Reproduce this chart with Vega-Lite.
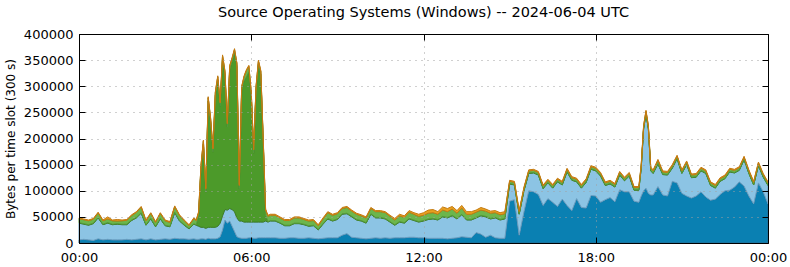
{
  "$schema": "https://vega.github.io/schema/vega-lite/v6.json",
  "width": 689,
  "height": 209,
  "autosize": "none",
  "padding": {"left": 79, "top": 34, "right": 22, "bottom": 24},
  "background": "white",
  "title": {"text": "Source Operating Systems (Windows) -- 2024-06-04 UTC", "font": "DejaVu Sans", "fontSize": 14.5, "fontWeight": "normal", "color": "black", "anchor": "middle", "baseline": "alphabetic", "offset": -3},
  "data": {"values": [
    {"minute":0,"s1":6000,"s2":32000,"s3":1000,"s4":7500,"s5":1500},
    {"minute":10,"s1":7000,"s2":29000,"s3":1000,"s4":7500,"s5":1500},
    {"minute":20,"s1":6000,"s2":28000,"s3":1000,"s4":7500,"s5":1500},
    {"minute":30,"s1":5000,"s2":32000,"s3":1000,"s4":7500,"s5":1500},
    {"minute":40,"s1":8000,"s2":40000,"s3":1000,"s4":8500,"s5":1500},
    {"minute":50,"s1":6000,"s2":29000,"s3":1000,"s4":6500,"s5":1500},
    {"minute":60,"s1":7000,"s2":31000,"s3":1000,"s4":7000,"s5":4000},
    {"minute":70,"s1":6000,"s2":29000,"s3":1000,"s4":6500,"s5":1500},
    {"minute":80,"s1":6000,"s2":30000,"s3":1000,"s4":5000,"s5":3000},
    {"minute":90,"s1":6000,"s2":29000,"s3":1000,"s4":6500,"s5":1500},
    {"minute":100,"s1":7000,"s2":28000,"s3":1000,"s4":7500,"s5":1500},
    {"minute":110,"s1":6000,"s2":37000,"s3":1000,"s4":8500,"s5":1500},
    {"minute":120,"s1":7000,"s2":41000,"s3":1000,"s4":9500,"s5":1500},
    {"minute":130,"s1":8000,"s2":49000,"s3":1000,"s4":10500,"s5":1500},
    {"minute":140,"s1":6000,"s2":28000,"s3":1000,"s4":7500,"s5":1500},
    {"minute":150,"s1":8000,"s2":38000,"s3":1000,"s4":9500,"s5":1500},
    {"minute":160,"s1":6000,"s2":25000,"s3":1000,"s4":7500,"s5":1500},
    {"minute":170,"s1":7000,"s2":39000,"s3":1000,"s4":9500,"s5":1500},
    {"minute":180,"s1":8000,"s2":25000,"s3":1000,"s4":8500,"s5":1500},
    {"minute":190,"s1":7000,"s2":24000,"s3":1000,"s4":7500,"s5":1500},
    {"minute":200,"s1":9000,"s2":49000,"s3":1000,"s4":10500,"s5":1500},
    {"minute":210,"s1":8000,"s2":34000,"s3":1000,"s4":9500,"s5":1500},
    {"minute":220,"s1":8000,"s2":26000,"s3":1000,"s4":7500,"s5":1500},
    {"minute":230,"s1":7000,"s2":20000,"s3":1000,"s4":5500,"s5":1500},
    {"minute":240,"s1":8000,"s2":28000,"s3":1000,"s4":9500,"s5":1500},
    {"minute":245,"s1":7000,"s2":27000,"s3":1000,"s4":8000,"s5":1500},
    {"minute":250,"s1":7000,"s2":25000,"s3":20000,"s4":6000,"s5":2000},
    {"minute":255,"s1":8000,"s2":22000,"s3":112000,"s4":6000,"s5":2000},
    {"minute":260,"s1":8000,"s2":22000,"s3":159000,"s4":6000,"s5":2000},
    {"minute":265,"s1":7000,"s2":21000,"s3":69000,"s4":6000,"s5":2000},
    {"minute":270,"s1":9000,"s2":21000,"s3":242000,"s4":6000,"s5":2000},
    {"minute":275,"s1":8000,"s2":22000,"s3":202000,"s4":6000,"s5":2000},
    {"minute":280,"s1":8000,"s2":22000,"s3":144000,"s4":6000,"s5":2000},
    {"minute":285,"s1":8000,"s2":22000,"s3":252000,"s4":6000,"s5":2000},
    {"minute":290,"s1":9000,"s2":23000,"s3":280000,"s4":6000,"s5":2000},
    {"minute":295,"s1":12000,"s2":26000,"s3":224000,"s4":6000,"s5":2000},
    {"minute":300,"s1":25000,"s2":27000,"s3":300000,"s4":6000,"s5":2000},
    {"minute":305,"s1":44000,"s2":20000,"s3":258000,"s4":6000,"s5":2000},
    {"minute":310,"s1":38000,"s2":25000,"s3":159000,"s4":6000,"s5":2000},
    {"minute":315,"s1":42000,"s2":24000,"s3":266000,"s4":6000,"s5":2000},
    {"minute":320,"s1":32000,"s2":32000,"s3":283000,"s4":6000,"s5":2000},
    {"minute":325,"s1":22000,"s2":38000,"s3":304000,"s4":6000,"s5":2000},
    {"minute":330,"s1":12000,"s2":36000,"s3":289000,"s4":6000,"s5":2000},
    {"minute":335,"s1":10000,"s2":32000,"s3":62000,"s4":6000,"s5":2000},
    {"minute":340,"s1":9000,"s2":33000,"s3":250000,"s4":6000,"s5":2000},
    {"minute":345,"s1":9000,"s2":31000,"s3":270000,"s4":8000,"s5":2000},
    {"minute":350,"s1":9000,"s2":31000,"s3":278000,"s4":12000,"s5":2000},
    {"minute":355,"s1":10000,"s2":30000,"s3":288000,"s4":10000,"s5":2000},
    {"minute":360,"s1":10000,"s2":30000,"s3":242000,"s4":6000,"s5":2000},
    {"minute":365,"s1":9000,"s2":31000,"s3":132000,"s4":6000,"s5":2000},
    {"minute":370,"s1":9000,"s2":31000,"s3":252000,"s4":6000,"s5":2000},
    {"minute":375,"s1":10000,"s2":30000,"s3":302000,"s4":6000,"s5":2000},
    {"minute":380,"s1":10000,"s2":30000,"s3":282000,"s4":6000,"s5":2000},
    {"minute":385,"s1":10000,"s2":30000,"s3":152000,"s4":6000,"s5":2000},
    {"minute":390,"s1":10000,"s2":32000,"s3":11000,"s4":10000,"s5":2000},
    {"minute":395,"s1":10000,"s2":30000,"s3":1000,"s4":10000,"s5":2000},
    {"minute":400,"s1":10000,"s2":32000,"s3":1000,"s4":10000,"s5":2000},
    {"minute":410,"s1":10000,"s2":32000,"s3":1000,"s4":10000,"s5":2000},
    {"minute":420,"s1":9000,"s2":29000,"s3":1000,"s4":9000,"s5":2000},
    {"minute":430,"s1":9000,"s2":24000,"s3":1000,"s4":9000,"s5":2000},
    {"minute":440,"s1":10000,"s2":23000,"s3":1000,"s4":9000,"s5":2000},
    {"minute":450,"s1":10000,"s2":27000,"s3":1000,"s4":10000,"s5":2000},
    {"minute":460,"s1":9000,"s2":28000,"s3":1000,"s4":10000,"s5":2000},
    {"minute":470,"s1":9000,"s2":26000,"s3":1000,"s4":9000,"s5":2000},
    {"minute":480,"s1":10000,"s2":22000,"s3":1000,"s4":9000,"s5":2000},
    {"minute":490,"s1":9000,"s2":24000,"s3":1000,"s4":9000,"s5":2000},
    {"minute":500,"s1":8000,"s2":17000,"s3":1000,"s4":7000,"s5":2000},
    {"minute":510,"s1":9000,"s2":27000,"s3":1000,"s4":9000,"s5":2000},
    {"minute":520,"s1":10000,"s2":36000,"s3":1000,"s4":11000,"s5":2000},
    {"minute":530,"s1":10000,"s2":32000,"s3":1000,"s4":10000,"s5":2000},
    {"minute":540,"s1":10000,"s2":35000,"s3":1000,"s4":10000,"s5":2000},
    {"minute":550,"s1":15000,"s2":40000,"s3":1000,"s4":10000,"s5":2000},
    {"minute":560,"s1":18000,"s2":38000,"s3":1000,"s4":11000,"s5":2000},
    {"minute":570,"s1":11000,"s2":39000,"s3":1000,"s4":10000,"s5":2000},
    {"minute":580,"s1":10000,"s2":34000,"s3":1000,"s4":10000,"s5":2000},
    {"minute":590,"s1":9000,"s2":33000,"s3":1000,"s4":9000,"s5":2000},
    {"minute":600,"s1":8000,"s2":30000,"s3":1000,"s4":9000,"s5":2000},
    {"minute":610,"s1":9000,"s2":46000,"s3":1000,"s4":10000,"s5":2000},
    {"minute":620,"s1":10000,"s2":38000,"s3":1000,"s4":11000,"s5":2000},
    {"minute":630,"s1":9000,"s2":39000,"s3":1000,"s4":11000,"s5":2000},
    {"minute":640,"s1":10000,"s2":36000,"s3":1000,"s4":11000,"s5":2000},
    {"minute":650,"s1":9000,"s2":31000,"s3":1000,"s4":10000,"s5":2000},
    {"minute":660,"s1":10000,"s2":24000,"s3":1000,"s4":9000,"s5":3000},
    {"minute":670,"s1":10000,"s2":30000,"s3":1000,"s4":11000,"s5":3000},
    {"minute":680,"s1":10000,"s2":28000,"s3":1000,"s4":10000,"s5":3000},
    {"minute":690,"s1":11000,"s2":35000,"s3":1000,"s4":12000,"s5":3000},
    {"minute":700,"s1":11000,"s2":32000,"s3":1000,"s4":11000,"s5":3000},
    {"minute":710,"s1":10000,"s2":30000,"s3":1000,"s4":10000,"s5":4000},
    {"minute":720,"s1":10000,"s2":32000,"s3":1000,"s4":10000,"s5":5000},
    {"minute":730,"s1":9000,"s2":36000,"s3":1000,"s4":11000,"s5":6000},
    {"minute":740,"s1":9000,"s2":37000,"s3":1000,"s4":11000,"s5":6000},
    {"minute":750,"s1":9000,"s2":35000,"s3":1000,"s4":10000,"s5":5000},
    {"minute":760,"s1":9000,"s2":41000,"s3":1000,"s4":12000,"s5":6000},
    {"minute":770,"s1":8000,"s2":40000,"s3":1000,"s4":11000,"s5":6000},
    {"minute":780,"s1":9000,"s2":43000,"s3":1000,"s4":12000,"s5":5000},
    {"minute":790,"s1":10000,"s2":36000,"s3":1000,"s4":10000,"s5":5000},
    {"minute":800,"s1":12000,"s2":42000,"s3":1000,"s4":12000,"s5":5000},
    {"minute":810,"s1":11000,"s2":33000,"s3":1000,"s4":10000,"s5":5000},
    {"minute":820,"s1":10000,"s2":34000,"s3":1000,"s4":10000,"s5":5000},
    {"minute":830,"s1":20000,"s2":28000,"s3":1000,"s4":10000,"s5":4000},
    {"minute":840,"s1":17000,"s2":35000,"s3":1000,"s4":10000,"s5":5000},
    {"minute":850,"s1":11000,"s2":39000,"s3":1000,"s4":10000,"s5":4000},
    {"minute":860,"s1":15000,"s2":31000,"s3":1000,"s4":10000,"s5":4000},
    {"minute":870,"s1":10000,"s2":38000,"s3":1000,"s4":9000,"s5":4000},
    {"minute":880,"s1":9000,"s2":35000,"s3":1000,"s4":9000,"s5":4000},
    {"minute":890,"s1":9000,"s2":37000,"s3":1000,"s4":9000,"s5":4000},
    {"minute":900,"s1":80000,"s2":33000,"s3":1000,"s4":4000,"s5":2000},
    {"minute":910,"s1":83000,"s2":28000,"s3":1000,"s4":4000,"s5":2000},
    {"minute":920,"s1":15000,"s2":40000,"s3":1000,"s4":4000,"s5":2000},
    {"minute":930,"s1":60000,"s2":40000,"s3":1000,"s4":4000,"s5":2000},
    {"minute":940,"s1":100000,"s2":33000,"s3":1000,"s4":4000,"s5":2000},
    {"minute":950,"s1":98000,"s2":36000,"s3":1000,"s4":4000,"s5":2000},
    {"minute":960,"s1":93000,"s2":37000,"s3":1000,"s4":4000,"s5":2000},
    {"minute":970,"s1":72000,"s2":32000,"s3":1000,"s4":4000,"s5":2000},
    {"minute":980,"s1":85000,"s2":30000,"s3":1000,"s4":4000,"s5":2000},
    {"minute":990,"s1":78000,"s2":27000,"s3":1000,"s4":4000,"s5":2000},
    {"minute":1000,"s1":70000,"s2":47000,"s3":1000,"s4":4000,"s5":2000},
    {"minute":1010,"s1":84000,"s2":27000,"s3":1000,"s4":4000,"s5":2000},
    {"minute":1020,"s1":72000,"s2":64000,"s3":1000,"s4":4000,"s5":2000},
    {"minute":1030,"s1":62000,"s2":58000,"s3":1000,"s4":4000,"s5":2000},
    {"minute":1040,"s1":85000,"s2":32000,"s3":1000,"s4":4000,"s5":2000},
    {"minute":1050,"s1":68000,"s2":37000,"s3":1000,"s4":4000,"s5":2000},
    {"minute":1060,"s1":67000,"s2":49000,"s3":1000,"s4":4000,"s5":2000},
    {"minute":1070,"s1":91000,"s2":50000,"s3":1000,"s4":4000,"s5":2000},
    {"minute":1080,"s1":90000,"s2":48000,"s3":1000,"s4":4000,"s5":2000},
    {"minute":1090,"s1":78000,"s2":50000,"s3":1000,"s4":4000,"s5":2000},
    {"minute":1100,"s1":83000,"s2":27000,"s3":1000,"s4":4000,"s5":2000},
    {"minute":1110,"s1":87000,"s2":26000,"s3":1000,"s4":4000,"s5":2000},
    {"minute":1120,"s1":79000,"s2":28000,"s3":1000,"s4":4000,"s5":2000},
    {"minute":1130,"s1":102000,"s2":28000,"s3":1000,"s4":4000,"s5":2000},
    {"minute":1140,"s1":98000,"s2":21000,"s3":1000,"s4":4000,"s5":2000},
    {"minute":1150,"s1":98000,"s2":30000,"s3":1000,"s4":4000,"s5":2000},
    {"minute":1160,"s1":80000,"s2":21000,"s3":1000,"s4":4000,"s5":2000},
    {"minute":1170,"s1":78000,"s2":23000,"s3":1000,"s4":4000,"s5":2000},
    {"minute":1175,"s1":90000,"s2":53000,"s3":1000,"s4":4000,"s5":2000},
    {"minute":1180,"s1":100000,"s2":118000,"s3":1000,"s4":4000,"s5":2000},
    {"minute":1185,"s1":105000,"s2":142000,"s3":1000,"s4":4000,"s5":2000},
    {"minute":1190,"s1":95000,"s2":123000,"s3":1000,"s4":4000,"s5":2000},
    {"minute":1195,"s1":92000,"s2":46000,"s3":1000,"s4":4000,"s5":2000},
    {"minute":1200,"s1":92000,"s2":41000,"s3":1000,"s4":4000,"s5":2000},
    {"minute":1210,"s1":108000,"s2":43000,"s3":1000,"s4":6000,"s5":2000},
    {"minute":1220,"s1":92000,"s2":39000,"s3":1000,"s4":4000,"s5":2000},
    {"minute":1230,"s1":90000,"s2":40000,"s3":1000,"s4":4000,"s5":2000},
    {"minute":1240,"s1":118000,"s2":25000,"s3":1000,"s4":4000,"s5":2000},
    {"minute":1250,"s1":115000,"s2":46000,"s3":1000,"s4":4000,"s5":2000},
    {"minute":1260,"s1":95000,"s2":38000,"s3":1000,"s4":4000,"s5":2000},
    {"minute":1270,"s1":90000,"s2":60000,"s3":1000,"s4":4000,"s5":2000},
    {"minute":1280,"s1":86000,"s2":39000,"s3":1000,"s4":4000,"s5":2000},
    {"minute":1290,"s1":90000,"s2":36000,"s3":1000,"s4":4000,"s5":2000},
    {"minute":1300,"s1":98000,"s2":40000,"s3":1000,"s4":4000,"s5":2000},
    {"minute":1310,"s1":88000,"s2":45000,"s3":1000,"s4":4000,"s5":2000},
    {"minute":1320,"s1":82000,"s2":28000,"s3":1000,"s4":4000,"s5":2000},
    {"minute":1330,"s1":84000,"s2":21000,"s3":1000,"s4":4000,"s5":2000},
    {"minute":1340,"s1":93000,"s2":25000,"s3":1000,"s4":4000,"s5":2000},
    {"minute":1350,"s1":100000,"s2":23000,"s3":1000,"s4":4000,"s5":2000},
    {"minute":1360,"s1":101000,"s2":35000,"s3":1000,"s4":4000,"s5":2000},
    {"minute":1370,"s1":107000,"s2":27000,"s3":1000,"s4":4000,"s5":2000},
    {"minute":1380,"s1":117000,"s2":22000,"s3":1000,"s4":4000,"s5":2000},
    {"minute":1390,"s1":109000,"s2":50000,"s3":1000,"s4":4000,"s5":2000},
    {"minute":1400,"s1":90000,"s2":43000,"s3":1000,"s4":4000,"s5":2000},
    {"minute":1410,"s1":75000,"s2":36000,"s3":1000,"s4":4000,"s5":2000},
    {"minute":1420,"s1":115000,"s2":33000,"s3":1000,"s4":4000,"s5":2000},
    {"minute":1430,"s1":98000,"s2":28000,"s3":1000,"s4":4000,"s5":2000},
    {"minute":1440,"s1":75000,"s2":35000,"s3":1000,"s4":4000,"s5":2000}
  ]},
  "transform": [{"fold": ["s1", "s2", "s3", "s4", "s5"], "as": ["series", "bytes"]}],
  "layer": [
    {
      "mark": {"type": "area", "strokeWidth": 1, "interpolate": "linear"},
      "encoding": {
        "x": {"field": "minute", "type": "quantitative", "scale": {"domain": [0, 1440], "nice": false, "zero": false},
          "axis": {"orient": "bottom", "title": null, "values": [0, 360, 720, 1080, 1440], "labelExpr": "(datum.value % 1440 == 0 ? '00' : datum.value == 360 ? '06' : format(datum.value / 60, '02d')) + ':00'", "labelFlush": false, "grid": true, "gridDash": [1, 5], "gridColor": "#a0a0a0", "tickSize": -6, "labelPadding": 14, "domain": true, "domainColor": "black", "zindex": 1}},
        "y": {"field": "bytes", "type": "quantitative", "stack": "zero", "scale": {"domain": [0, 400000], "nice": false},
          "axis": {"orient": "left", "title": "Bytes per time slot (300 s)", "values": [0, 50000, 100000, 150000, 200000, 250000, 300000, 350000, 400000], "format": "d", "grid": true, "gridDash": [1, 5], "gridColor": "#a0a0a0", "tickSize": -6, "labelPadding": 12, "titlePadding": 6, "domain": true, "domainColor": "black", "zindex": 1}},
        "color": {"field": "series", "type": "nominal", "scale": {"domain": ["s1", "s2", "s3", "s4", "s5"], "range": ["#0a80b2", "#8cc4e4", "#4c9a2a", "#6cb64c", "#e8a020"]}, "legend": null},
        "stroke": {"field": "series", "type": "nominal", "scale": {"domain": ["s1", "s2", "s3", "s4", "s5"], "range": ["#2a6a90", "#6a9fc2", "#3d7d22", "#559a3a", "#c47a10"]}, "legend": null},
        "order": {"field": "series", "sort": "ascending"}
      }
    },
    {
      "mark": {"type": "point", "opacity": 0},
      "encoding": {
        "x": {"field": "minute", "type": "quantitative", "axis": {"orient": "top", "title": null, "labels": false, "values": [0, 360, 720, 1080, 1440], "grid": false, "tickSize": -6, "domain": true, "domainColor": "black", "zindex": 1, "minExtent": 0, "maxExtent": 0}},
        "y": {"field": "bytes", "type": "quantitative", "axis": {"orient": "right", "title": null, "labels": false, "values": [0, 50000, 100000, 150000, 200000, 250000, 300000, 350000, 400000], "grid": false, "tickSize": -6, "domain": true, "domainColor": "black", "zindex": 1, "minExtent": 0, "maxExtent": 0}}
      }
    }
  ],
  "resolve": {"axis": {"x": "independent", "y": "independent"}},
  "config": {
    "view": {"stroke": null},
    "axis": {"labelFont": "DejaVu Sans", "labelFontSize": 13, "labelColor": "black", "titleFont": "DejaVu Sans", "titleFontSize": 12, "titleFontWeight": "normal", "titleColor": "black", "tickColor": "black"}
  }
}
